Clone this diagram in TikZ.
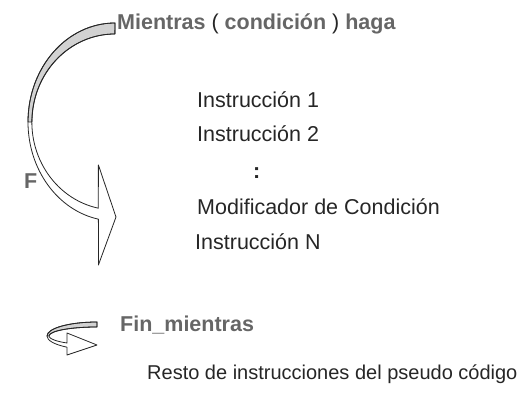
\documentclass[tikz,border=0pt]{standalone}
\usepackage{fontspec}
\setmainfont{Liberation Sans}
\usepackage{tikz}
\definecolor{kwgray}{RGB}{102,102,102}
\definecolor{ribbon}{RGB}{210,210,210}
\newcommand{\kwd}[1]{\textcolor{kwgray}{\bfseries #1}}

\begin{document}
\begin{tikzpicture}[
  x=1pt,y=1pt,
  font=\fontsize{21.5}{25}\selectfont,
  txt/.style={anchor=base west,inner sep=0pt,text=black!85},
  kw/.style={anchor=base west,inner sep=0pt,text=kwgray,
             font=\fontsize{21.5}{25}\selectfont\bfseries},
  back/.style={fill=ribbon,draw=black!85,line width=0.8pt,line join=round},
  band/.style={draw=black!85,line width=0.8pt,line join=round}
]
\useasboundingbox (0,0) rectangle (523,410);

% texto del ciclo
\node[txt] (loop) at (117,380)
  {\kwd{Mientras} ( \kwd{condición} ) \kwd{haga}};
\node[txt] (ins1) at (197,302) {Instrucción 1};
\node[txt] (ins2) at (197,268) {Instrucción 2};
\node[txt,font=\fontsize{21.5}{25}\selectfont\bfseries] (dots) at (253,231) {:};
\node[txt] (modif) at (197,195) {Modificador de Condición};
\node[txt] (insn) at (195,160) {Instrucción N};
\node[kw] (flab) at (24,221) {F};
\node[kw] (endloop) at (120,78) {Fin\_mientras};
\node[txt,font=\fontsize{20}{24}\selectfont] (rest) at (147,30)
  {Resto de instrucciones del pseudo código};

% flecha curva grande
\fill[back] (115,387) arc[start angle=90,end angle=180,x radius=87,y radius=99]
  -- (32,288) arc[start angle=180,end angle=90,x radius=83,y radius=88] -- cycle;
\draw[band] (115,387) arc[start angle=90,end angle=259,x radius=87,y radius=99]
  -- (98.4,145) -- (116,193) -- (98.4,245) -- (98.3,201.8)
  arc[start angle=258.5,end angle=90,x radius=83,y radius=88] -- cycle;

% flecha curva pequena
\fill[back] (97,88) arc[start angle=90,end angle=180,x radius=50,y radius=14]
  -- (49,74) arc[start angle=180,end angle=90,x radius=48,y radius=9] -- cycle;
\draw[band] (97,88) arc[start angle=90,end angle=233.1,x radius=50,y radius=14]
  -- (67,55) -- (97,65) -- (67,77) -- (67,67)
  arc[start angle=231.3,end angle=90,x radius=48,y radius=9] -- cycle;
\end{tikzpicture}
\end{document}
